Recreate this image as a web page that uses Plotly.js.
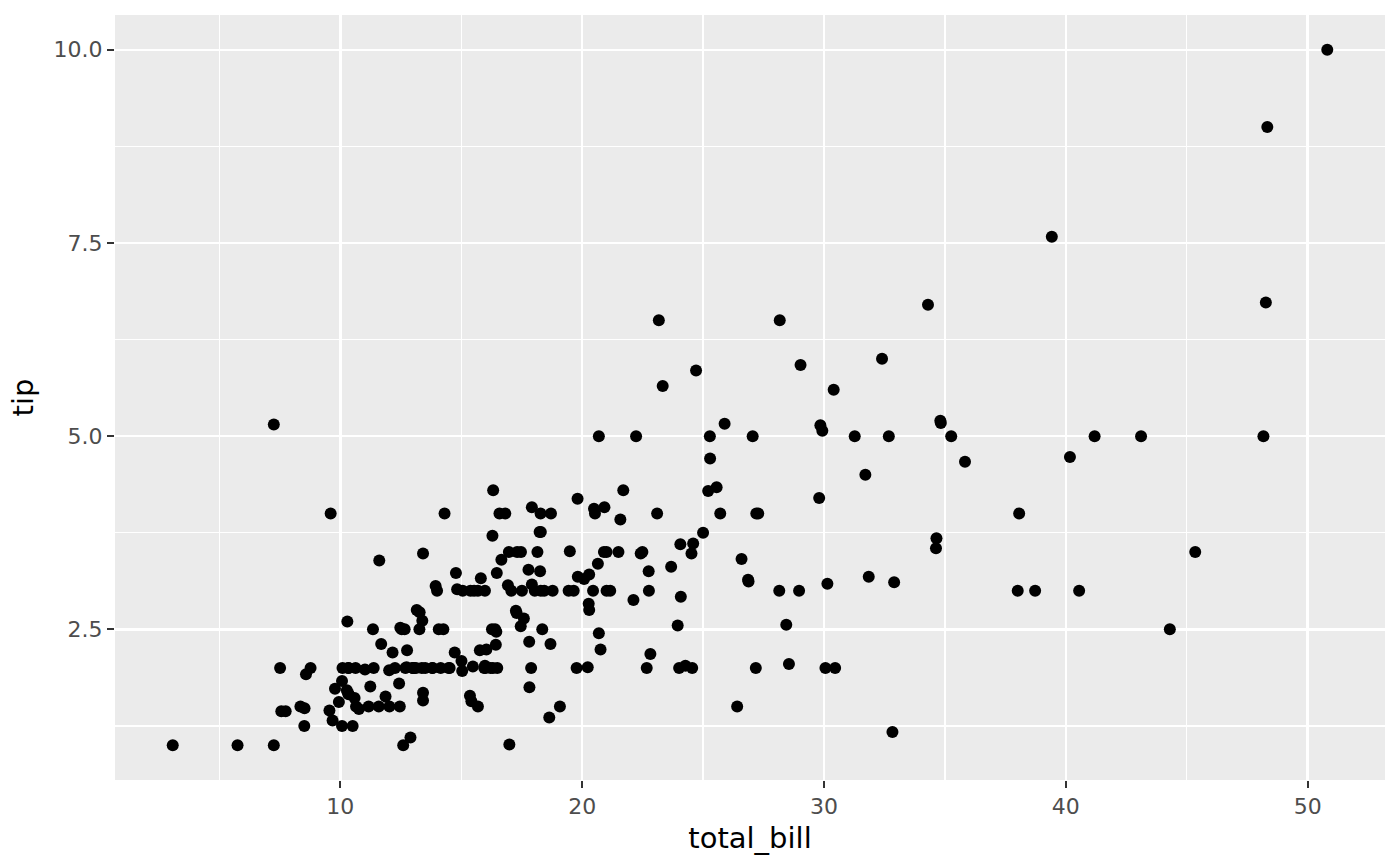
<!DOCTYPE html>
<html>
<head>
<meta charset="utf-8">
<script src="https://cdn.plot.ly/plotly-3.0.1.min.js"></script>
<style>
  html, body { margin: 0; padding: 0; background: #fff; }
  #chart { width: 1400px; height: 865px; }
</style>
</head>
<body>
<div id="chart"></div>
<script>
// tips data: total_bill and tip
var totalBill = [
  16.99, 10.34, 21.01, 23.68, 24.59, 25.29, 8.77, 26.88, 15.04, 14.78,
  10.27, 35.26, 15.42, 18.43, 14.83, 21.58, 10.33, 16.29, 16.97, 20.65,
  17.92, 20.29, 15.77, 39.42, 19.82, 17.81, 13.37, 12.69, 21.70, 19.65,
  9.55, 18.35, 15.06, 20.69, 17.78, 24.06, 16.31, 16.93, 18.69, 31.27,
  16.04, 17.46, 13.94, 9.68, 30.40, 18.29, 22.23, 32.40, 28.55, 18.04,
  12.54, 10.29, 34.81, 9.94, 25.56, 19.49, 38.01, 26.41, 11.24, 48.27,
  20.29, 13.81, 11.02, 18.29, 17.59, 20.08, 16.45, 3.07, 20.23, 15.01,
  12.02, 17.07, 26.86, 25.28, 14.73, 10.51, 17.92, 27.20, 22.76, 17.29,
  19.44, 16.66, 10.07, 32.68, 15.98, 34.83, 13.03, 18.28, 24.71, 21.16,
  28.97, 22.49, 5.75, 16.32, 22.75, 40.17, 27.28, 12.03, 21.01, 12.46,
  11.35, 15.38, 44.30, 22.42, 20.92, 15.36, 20.49, 25.21, 18.24, 14.31,
  14.00, 7.25, 38.07, 23.95, 25.71, 17.31, 29.93, 10.65, 12.43, 24.08,
  11.69, 13.42, 14.26, 15.95, 12.48, 29.80, 8.52, 14.52, 11.38, 22.82,
  19.08, 20.27, 11.17, 12.26, 18.26, 8.51, 10.33, 14.15, 16.00, 13.16,
  17.47, 34.30, 41.19, 27.05, 16.43, 8.35, 18.64, 11.87, 9.78, 7.51,
  14.07, 13.13, 17.26, 24.55, 19.77, 29.85, 48.17, 25.00, 13.39, 16.49,
  21.50, 12.66, 16.21, 13.81, 17.51, 24.52, 20.76, 31.71, 10.59, 10.63,
  50.81, 15.81, 7.25, 31.85, 16.82, 32.90, 17.89, 14.48, 9.60, 34.63,
  34.65, 23.33, 45.35, 23.17, 40.55, 20.69, 20.90, 30.46, 18.15, 23.10,
  15.69, 19.81, 28.44, 15.48, 16.58, 7.56, 10.34, 43.11, 13.00, 13.51,
  18.71, 12.74, 13.00, 16.40, 20.53, 16.47, 26.59, 38.73, 24.27, 12.76,
  30.06, 25.89, 48.33, 13.27, 28.17, 12.90, 28.15, 11.59, 7.74, 30.14,
  12.16, 13.42, 8.58, 15.98, 13.42, 16.27, 10.09, 20.45, 13.28, 22.12,
  24.01, 15.69, 11.61, 10.77, 15.53, 10.07, 12.60, 32.83, 35.83, 29.03,
  27.18, 22.67, 17.82, 18.78
];
var tip = [
  1.01, 1.66, 3.50, 3.31, 3.61, 4.71, 2.00, 3.12, 1.96, 3.23,
  1.71, 5.00, 1.57, 3.00, 3.02, 3.92, 1.67, 3.71, 3.50, 3.35,
  4.08, 2.75, 2.23, 7.58, 3.18, 2.34, 2.00, 2.00, 4.30, 3.00,
  1.45, 2.50, 3.00, 2.45, 3.27, 3.60, 2.00, 3.07, 2.31, 5.00,
  2.24, 2.54, 3.06, 1.32, 5.60, 3.00, 5.00, 6.00, 2.05, 3.00,
  2.50, 2.60, 5.20, 1.56, 4.34, 3.51, 3.00, 1.50, 1.76, 6.73,
  3.21, 2.00, 1.98, 3.76, 2.64, 3.15, 2.47, 1.00, 2.01, 2.09,
  1.97, 3.00, 3.14, 5.00, 2.20, 1.25, 3.08, 4.00, 3.00, 2.71,
  3.00, 3.40, 1.83, 5.00, 2.03, 5.17, 2.00, 4.00, 5.85, 3.00,
  3.00, 3.50, 1.00, 4.30, 3.25, 4.73, 4.00, 1.50, 3.00, 1.50,
  2.50, 3.00, 2.50, 3.48, 4.08, 1.64, 4.06, 4.29, 3.76, 4.00,
  3.00, 1.00, 4.00, 2.55, 4.00, 3.50, 5.07, 1.50, 1.80, 2.92,
  2.31, 1.68, 2.50, 2.00, 2.52, 4.20, 1.48, 2.00, 2.00, 2.18,
  1.50, 2.83, 1.50, 2.00, 3.25, 1.25, 2.00, 2.00, 2.00, 2.75,
  3.50, 6.70, 5.00, 5.00, 2.30, 1.50, 1.36, 1.63, 1.73, 2.00,
  2.50, 2.00, 2.74, 2.00, 2.00, 5.14, 5.00, 3.75, 2.61, 2.00,
  3.50, 2.50, 2.00, 2.00, 3.00, 3.48, 2.24, 4.50, 1.61, 2.00,
  10.00, 3.16, 5.15, 3.18, 4.00, 3.11, 2.00, 2.00, 4.00, 3.55,
  3.68, 5.65, 3.50, 6.50, 3.00, 5.00, 3.50, 2.00, 3.50, 4.00,
  1.50, 4.19, 2.56, 2.02, 4.00, 1.44, 2.00, 5.00, 2.00, 2.00,
  4.00, 2.01, 2.00, 2.50, 4.00, 3.23, 3.41, 3.00, 2.03, 2.23,
  2.00, 5.16, 9.00, 2.50, 6.50, 1.10, 3.00, 1.50, 1.44, 3.09,
  2.20, 3.48, 1.92, 3.00, 1.58, 2.50, 2.00, 3.00, 2.72, 2.88,
  2.00, 3.00, 3.39, 1.47, 3.00, 1.25, 1.00, 1.17, 4.67, 5.92,
  2.00, 2.00, 1.75, 3.00
];
var xTicks = [10, 20, 30, 40, 50];
var yTicks = [2.5, 5.0, 7.5, 10.0];

// ggplot-style 5% expansion
function expand(arr) {
  var lo = Math.min.apply(null, arr), hi = Math.max.apply(null, arr);
  var pad = (hi - lo) * 0.05;
  return [lo - pad, hi + pad];
}

var trace = {
  type: 'scatter',
  mode: 'markers',
  x: totalBill,
  y: tip,
  marker: { color: '#000000', size: 12, line: { width: 0 } },
  hoverinfo: 'x+y'
};

var axisCommon = {
  showline: false,
  zeroline: false,
  gridcolor: '#FFFFFF',
  gridwidth: 2.4,
  ticks: 'outside',
  ticklen: 7,
  tickwidth: 2,
  tickcolor: '#333333',
  tickfont: { family: 'DejaVu Sans', size: 22, color: '#4D4D4D' }
};

var layout = {
  width: 1400,
  height: 865,
  margin: { l: 115, r: 15, t: 15, b: 85 },
  paper_bgcolor: '#FFFFFF',
  plot_bgcolor: '#EBEBEB',
  showlegend: false,
  font: { family: 'DejaVu Sans', color: '#000000' },
  xaxis: Object.assign({}, axisCommon, {
    range: expand(totalBill),
    tickmode: 'array',
    tickvals: xTicks,
    ticktext: xTicks.map(String),
    minor: { tickmode: 'array', tickvals: [5, 15, 25, 35, 45], showgrid: true, gridcolor: '#FFFFFF', gridwidth: 1.2, ticks: '' },
    title: { text: 'total_bill', font: { family: 'DejaVu Sans', size: 29, color: '#000000' }, standoff: 9 }
  }),
  yaxis: Object.assign({}, axisCommon, {
    range: expand(tip),
    tickmode: 'array',
    tickvals: yTicks,
    ticktext: yTicks.map(function (v) { return v.toFixed(1); }),
    minor: { tickmode: 'array', tickvals: [1.25, 3.75, 6.25, 8.75], showgrid: true, gridcolor: '#FFFFFF', gridwidth: 1.2, ticks: '' },
    title: { text: 'tip', font: { family: 'DejaVu Sans', size: 29, color: '#000000' }, standoff: 11 }
  })
};

Plotly.newPlot('chart', [trace], layout, { displayModeBar: false, staticPlot: true });
</script>
</body>
</html>
